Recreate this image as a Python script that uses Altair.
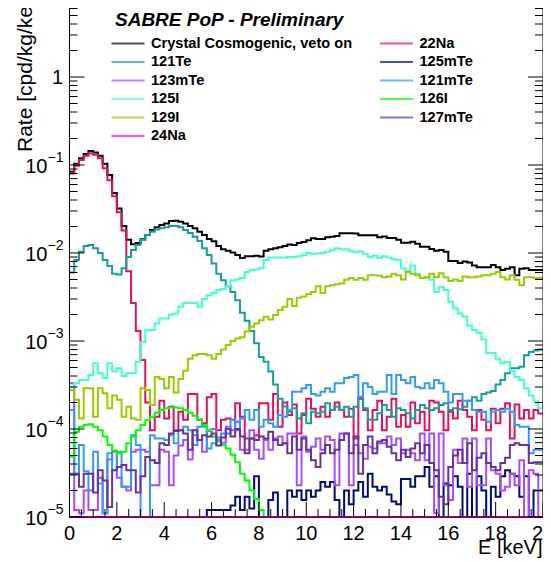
import altair as alt
import pandas as pd

# ---------------- data, 100 bins of 0.2 keV ----------------
E_EDGES = [round(0.2 * i, 1) for i in range(101)]

crystal = [0.084, 0.103, 0.119, 0.133, 0.144, 0.139, 0.127, 0.103, 0.077, 0.048,
           0.032, 0.0203, 0.0141, 0.0126, 0.0130, 0.0143, 0.0160, 0.0182, 0.0196, 0.0208,
           0.0217, 0.0231, 0.0233, 0.0227, 0.0217, 0.0203, 0.0191, 0.0174, 0.0160, 0.0144,
           0.0136, 0.0120, 0.0110, 0.0106, 0.0101, 0.0095, 0.0088, 0.0092, 0.0092, 0.0093,
           0.0091, 0.0106, 0.0110, 0.0113, 0.0116, 0.0120, 0.0125, 0.0123, 0.0130, 0.0133,
           0.0140, 0.0147, 0.0144, 0.0144, 0.0151, 0.0153, 0.0156, 0.0168, 0.0168, 0.0168,
           0.0166, 0.0159, 0.0159, 0.0159, 0.0159, 0.0151, 0.0154, 0.0148, 0.0148, 0.0141,
           0.0131, 0.0131, 0.0134, 0.0127, 0.0118, 0.0118, 0.0111, 0.0106, 0.0108, 0.0103,
           0.0081, 0.0081, 0.0077, 0.0080, 0.0078, 0.0072, 0.0069, 0.0069, 0.0069, 0.0073,
           0.0069, 0.0064, 0.0066, 0.0069, 0.0056, 0.0066, 0.0067, 0.0064, 0.0064, 0.0064]

na22 = [0.080, 0.098, 0.114, 0.127, 0.136, 0.131, 0.119, 0.092, 0.067, 0.044,
        0.029, 0.018, 0.0062, 0.0027, 0.0013, 6.1e-4, 2.0e-4, 9.7e-5, 1.38e-4, 2.1e-4,
        1.32e-4, 1.79e-4, 9.7e-5, 1.57e-4, 1.27e-4, 2.5e-4, 2.5e-4, 1.27e-4, 1.16e-4, 2.3e-4,
        2.5e-4, 9.7e-5, 1.27e-4, 1.32e-4, 1.27e-4, 1.96e-4, 1.38e-4, 7.8e-5, 7.8e-5, 8.5e-5,
        1.96e-4, 1.96e-4, 1.27e-4, 2.5e-4, 1.06e-4, 2.0e-4, 1.44e-4, 1.9e-4, 8.9e-5, 1.44e-4,
        2.2e-4, 1.7e-4, 1.38e-4, 1.79e-4, 1.38e-4, 1.64e-4, 2.0e-4, 1.64e-4, 1.38e-4, 1.7e-4,
        7.8e-5, 2.2e-4, 1.64e-4, 9.7e-5, 1.64e-4, 2.1e-4, 9.7e-5, 1.38e-4, 2.2e-4, 1.06e-4,
        1.44e-4, 1.06e-4, 2.0e-4, 1.16e-4, 1.57e-4, 9.7e-5, 2.1e-4, 2.0e-4, 1.57e-4, 9.7e-5,
        1.57e-4, 1.32e-4, 2.1e-4, 1.64e-4, 1.38e-4, 9.7e-5, 1.64e-4, 1.27e-4, 9.7e-5, 1.7e-4,
        1.16e-4, 1.7e-4, 1.96e-4, 7.8e-5, 1.9e-4, 1.32e-4, 1.64e-4, 1.32e-4, 1.64e-4, 1.5e-4]

te121 = [0.0060, 0.0083, 0.0103, 0.0120, 0.0123, 0.0113, 0.0100, 0.0083, 0.0071, 0.0058,
         0.0057, 0.0067, 0.0090, 0.0108, 0.0123, 0.0141, 0.0160, 0.0174, 0.0185, 0.0191,
         0.0196, 0.0203, 0.0203, 0.0196, 0.0182, 0.0169, 0.0153, 0.0137, 0.0113, 0.0095,
         0.0076, 0.0058, 0.0049, 0.0042, 0.0036, 0.0029, 0.0021, 0.0017, 0.0013, 9.4e-4,
         6.6e-4, 5.8e-4, 4.5e-4, 3.2e-4, 2.2e-4, 1.8e-4, 1.57e-4, 1.72e-4, 1.32e-4, 1.51e-4,
         1.16e-4, 1.57e-4, 1.51e-4, 1.57e-4, 1.96e-4, 1.64e-4, 1.79e-4, 1.64e-4, 1.79e-4, 1.38e-4,
         1.79e-4, 2.33e-4, 1.72e-4, 1.27e-4, 1.27e-4, 1.51e-4, 1.87e-4, 1.64e-4, 1.38e-4, 1.72e-4,
         1.64e-4, 1.51e-4, 1.32e-4, 1.64e-4, 1.87e-4, 1.72e-4, 1.64e-4, 1.72e-4, 1.87e-4, 1.96e-4,
         1.64e-4, 1.72e-4, 1.68e-4, 1.79e-4, 2.1e-4, 2.3e-4, 2.1e-4, 2.5e-4, 2.6e-4, 2.7e-4,
         3.2e-4, 3.6e-4, 4.3e-4, 4.9e-4, 4.9e-4, 5.1e-4, 6.9e-4, 7.5e-4, 7.8e-4, 8.0e-4]

te125m = [0] * 29 + [1.2e-5, 1.2e-5, 1.2e-5, 1.2e-5, 1.2e-5, 1.35e-5, 1.7e-5, 1.2e-5, 1.7e-5, 1.25e-5, 2.9e-5,
          0, 0, 1.56e-5, 1.9e-5, 0, 0, 2.0e-5, 1.7e-5, 2.0e-5, 1.56e-5,
          2.0e-5, 1.7e-5, 2.0e-5, 2.5e-5, 2.2e-5, 2.5e-5, 1.56e-5, 0, 2.0e-5, 1.4e-5,
          2.0e-5, 2.5e-5, 1.7e-5, 3.1e-5, 2.2e-5, 2.0e-5, 2.2e-5, 1.8e-5, 1.5e-5, 1.4e-5,
          2.7e-5, 2.7e-5, 2.2e-5, 2.9e-5, 2.9e-5, 3.7e-5, 2.2e-5, 2.9e-5, 0, 2.4e-5,
          2.3e-5, 2.9e-5, 2.2e-5, 0, 3.1e-5, 0, 2.9e-5, 2.0e-5, 0, 2.2e-5,
          1.7e-5, 2.9e-5, 3.4e-5, 3.1e-5, 2.9e-5, 1.7e-5, 2.9e-5, 0, 2.0e-5, 2.0e-5]

te123m = [3.3e-4, 1.2e-5, 1.1e-5, 2.0e-5, 1.2e-5, 1.2e-5, 2.8e-5, 1.1e-5, 4.5e-5, 5.5e-5,
          2.8e-5, 2.2e-5, 2.0e-5, 5.5e-5, 5.8e-5, 5.8e-5, 5.5e-5, 2.3e-5, 2.3e-5, 5.8e-5,
          5.5e-5, 2.3e-5, 5.0e-5, 6.5e-5, 7.5e-5, 4.5e-5, 8.5e-5, 7.5e-5, 5.5e-5, 9.5e-5,
          1.0e-4, 8.0e-5, 7.0e-5, 1.06e-4, 9.7e-5, 1.21e-4, 5.8e-5, 5.8e-5, 9.7e-5, 5.8e-5,
          4.6e-5, 7.5e-5, 5.8e-5, 7.8e-5, 8.2e-5, 6.9e-5, 8.9e-5, 8.9e-5, 2.3e-5, 8.2e-5,
          5.5e-5, 6.3e-5, 7.8e-5, 5.8e-5, 8.2e-5, 7.5e-5, 2.3e-5, 8.9e-5, 8.9e-5, 2.3e-5,
          6.6e-5, 5.3e-5, 4.6e-5, 6.3e-5, 6.0e-5, 6.9e-5, 6.9e-5, 8.2e-5, 6.6e-5, 7.8e-5,
          5.3e-5, 5.8e-5, 5.3e-5, 4.4e-5, 8.9e-5, 4.4e-5, 8.9e-5, 1.1e-5, 8.9e-5, 2.3e-5,
          1.56e-5, 5.8e-5, 4.1e-5, 7.8e-5, 2.2e-5, 7.8e-5, 2.3e-5, 2.3e-5, 7.8e-5, 3.4e-5,
          3.1e-5, 2.0e-5, 2.2e-5, 3.1e-5, 2.3e-5, 4.4e-5, 0, 3.4e-5, 3.1e-5, 0]

te121m = [1.64e-4, 3.1e-5, 6.6e-5, 3.3e-5, 2.0e-5, 5.5e-5, 2.4e-5, 1.1e-5, 5.3e-5, 3.4e-5,
          5.5e-5, 2.2e-5, 2.2e-5, 8.5e-5, 6.6e-5, 0, 0, 8.5e-5, 7.8e-5, 7.8e-5,
          7.5e-5, 8.5e-5, 6.9e-5, 9.7e-5, 1.06e-4, 9.7e-5, 6.6e-5, 1.06e-4, 1.06e-4, 6.0e-5,
          6.9e-5, 7.5e-5, 8.9e-5, 8.9e-5, 1.27e-4, 9.7e-5, 1.32e-4, 1.64e-4, 1.27e-4, 1.64e-4,
          1.06e-4, 1.27e-4, 1.16e-4, 1.06e-4, 1.44e-4, 1.38e-4, 1.64e-4, 2.65e-4, 2.65e-4, 2.9e-4,
          3.16e-4, 2.5e-4, 2.4e-4, 2.65e-4, 2.9e-4, 2.65e-4, 3.3e-4, 3.3e-4, 3.8e-4, 3.9e-4,
          4.1e-4, 2.3e-4, 3.3e-4, 3.0e-4, 2.5e-4, 2.65e-4, 2.65e-4, 4.1e-4, 2.5e-4, 4.1e-4,
          3.6e-4, 3.3e-4, 3.9e-4, 3.0e-4, 2.9e-4, 3.3e-4, 2.9e-4, 3.6e-4, 3.3e-4, 2.65e-4,
          2.0e-4, 2.5e-4, 2.5e-4, 2.1e-4, 2.1e-4, 1.64e-4, 1.57e-4, 1.57e-4, 1.21e-4, 1.57e-4,
          1.64e-4, 1.57e-4, 1.7e-4, 1.57e-4, 1.11e-4, 1.06e-4, 1.06e-4, 5.3e-5, 5.8e-5, 5.8e-5]

i125 = [3.0e-4, 3.3e-4, 3.6e-4, 3.6e-4, 4.1e-4, 5.6e-4, 4.3e-4, 3.8e-4, 5.6e-4, 4.5e-4,
        4.9e-4, 4.0e-4, 4.3e-4, 4.3e-4, 5.8e-4, 9.7e-4, 1.33e-3, 1.33e-3, 1.58e-3, 1.8e-3,
        1.8e-3, 2.0e-3, 2.05e-3, 2.45e-3, 2.7e-3, 2.7e-3, 2.7e-3, 2.45e-3, 3.0e-3, 3.3e-3,
        3.5e-3, 3.8e-3, 3.9e-3, 4.2e-3, 4.9e-3, 5.0e-3, 5.2e-3, 6.1e-3, 6.4e-3, 6.5e-3,
        6.7e-3, 8.3e-3, 8.9e-3, 8.9e-3, 8.9e-3, 8.9e-3, 9.0e-3, 9.0e-3, 9.2e-3, 9.5e-3,
        1.0e-2, 9.8e-3, 9.9e-3, 1.0e-2, 1.03e-2, 1.08e-2, 1.13e-2, 1.1e-2, 1.1e-2, 1.05e-2,
        1.02e-2, 1.05e-2, 9.8e-3, 9.0e-3, 9.3e-3, 8.8e-3, 9.2e-3, 8.9e-3, 8.5e-3, 8.3e-3,
        6.7e-3, 6.3e-3, 7.2e-3, 5.8e-3, 5.2e-3, 5.3e-3, 4.95e-3, 3.6e-3, 4.1e-3, 3.8e-3,
        2.8e-3, 2.35e-3, 2.05e-3, 1.9e-3, 1.5e-3, 1.33e-3, 1.23e-3, 1.04e-3, 7.3e-4, 7.3e-4,
        6.3e-4, 5.6e-4, 5.8e-4, 4.6e-4, 3.9e-4, 3.6e-4, 2.9e-4, 2.4e-4, 2.05e-4, 1.72e-4]

i126 = [4.85e-5, 9.3e-5, 1.06e-4, 1.11e-4, 1.13e-4, 1.06e-4, 9.7e-5, 8.2e-5, 6.6e-5, 5.7e-5,
        5.3e-5, 5.5e-5, 6.9e-5, 8.2e-5, 9.7e-5, 1.11e-4, 1.26e-4, 1.38e-4, 1.53e-4, 1.64e-4,
        1.72e-4, 1.76e-4, 1.76e-4, 1.72e-4, 1.64e-4, 1.53e-4, 1.41e-4, 1.29e-4, 1.11e-4, 9.7e-5,
        8.2e-5, 7.2e-5, 6.6e-5, 6.0e-5, 5.1e-5, 4.2e-5, 3.1e-5, 2.6e-5, 2.0e-5, 1.6e-5,
        1.2e-5] + [0] * 59

i129 = [2.77e-4, 2.15e-4, 1.32e-4, 2.9e-4, 2.9e-4, 1.38e-4, 2.9e-4, 2.55e-4, 1.72e-4, 2.4e-4,
        2.15e-4, 1.38e-4, 1.79e-4, 1.32e-4, 1.27e-4, 2.9e-4, 2.77e-4, 1.87e-4, 3.9e-4, 3.7e-4,
        2.9e-4, 3.9e-4, 2.6e-4, 3.7e-4, 4.6e-4, 6.3e-4, 6.9e-4, 7.1e-4, 7.1e-4, 6.9e-4,
        6.3e-4, 7.1e-4, 8.0e-4, 9.0e-4, 1.0e-3, 1.07e-3, 1.1e-3, 1.28e-3, 1.45e-3, 1.58e-3,
        1.72e-3, 1.89e-3, 1.75e-3, 1.98e-3, 2.25e-3, 2.45e-3, 3.0e-3, 2.5e-3, 3.1e-3, 3.2e-3,
        3.4e-3, 3.6e-3, 4.2e-3, 3.5e-3, 4.2e-3, 4.3e-3, 4.4e-3, 4.5e-3, 4.95e-3, 5.2e-3,
        4.95e-3, 5.2e-3, 4.95e-3, 5.6e-3, 5.6e-3, 5.5e-3, 5.3e-3, 5.4e-3, 5.8e-3, 5.6e-3,
        5.0e-3, 6.1e-3, 5.8e-3, 5.6e-3, 5.2e-3, 5.3e-3, 5.8e-3, 5.3e-3, 5.9e-3, 5.3e-3,
        4.8e-3, 5.0e-3, 4.8e-3, 5.4e-3, 5.3e-3, 5.3e-3, 5.4e-3, 5.6e-3, 5.6e-3, 5.8e-3,
        6.1e-3, 5.3e-3, 5.0e-3, 5.6e-3, 4.95e-3, 4.3e-3, 5.3e-3, 5.3e-3, 5.2e-3, 5.2e-3]

te127m = [3.1e-5, 3.1e-5, 2.2e-5, 3.1e-5, 3.1e-5, 1.9e-5, 3.4e-5, 2.6e-5, 1.3e-5, 3.4e-5,
          3.7e-5, 3.9e-5, 3.4e-5, 3.4e-5, 1.9e-5, 2.9e-5, 4.8e-5, 4.4e-5, 4.1e-5, 6.9e-5,
          6.6e-5, 8.9e-5, 9.5e-5, 9.7e-5, 8.9e-5, 5.8e-5, 9.7e-5, 7.5e-5, 8.5e-5, 8.2e-5,
          8.9e-5, 6.5e-5, 8.0e-5, 1.0e-4, 8.2e-5, 1.0e-4, 8.2e-5, 5.3e-5, 7.8e-5, 7.5e-5,
          8.2e-5, 7.8e-5, 9.3e-5, 7.5e-5, 6.6e-5, 6.9e-5, 5.3e-5, 8.2e-5, 5.8e-5, 7.8e-5,
          5.8e-5, 4.4e-5, 3.7e-5, 5.3e-5, 6.6e-5, 5.3e-5, 5.8e-5, 7.5e-5, 8.9e-5, 5.3e-5,
          8.2e-5, 3.1e-5, 6.6e-5, 8.2e-5, 5.3e-5, 7.2e-5, 7.5e-5, 6.3e-5, 5.3e-5, 4.4e-5,
          5.8e-5, 4.8e-5, 6.0e-5, 6.9e-5, 5.3e-5, 6.6e-5, 4.1e-5, 3.4e-5, 1.7e-5, 1.4e-5,
          3.7e-5, 5.0e-5, 5.8e-5, 4.1e-5, 6.9e-5, 3.4e-5, 4.7e-5, 5.3e-5, 4.1e-5, 3.7e-5,
          3.4e-5, 4.1e-5, 4.7e-5, 6.6e-5, 6.9e-5, 6.6e-5, 6.6e-5, 4.1e-5, 4.2e-5, 4.2e-5]

na24 = [0] * 100

# legend order (row-wise, two columns) == drawing order
NAMES = ["Crystal Cosmogenic, veto on", "22Na", "121Te", "125mTe", "123mTe", "121mTe",
         "125I", "126I", "129I", "127mTe", "24Na"]
COLORS = ["#000000", "#e0115f", "#1a9c9c", "#000a7f", "#a64dff", "#3399ff",
          "#40ffd0", "#00ff00", "#99cc00", "#663399", "#ff00ff"]
VALUES = [crystal, na22, te121, te125m, te123m, te121m, i125, i126, i129, te127m, na24]

MAJOR_DECADES = [1e-5, 1e-4, 1e-3, 1e-2, 1e-1, 1.0]
EXPONENT_TEXT = ["\u22125", "\u22124", "\u22123", "\u22122", "\u22121"]
MINOR_MULT = [2, 3, 4, 5, 6, 7, 8, 9]
X_LABELS = [0, 2, 4, 6, 8, 10, 12, 14, 16, 18, 20]
X_MINOR = [0.5 * k for k in range(41) if k % 4 != 0]

YMIN, YMAX = 1e-5, 6.08
W, H = 473.5, 509
FONT = "Liberation Sans"

xs = alt.Scale(domain=[0, 20], nice=False, zero=False)
ys = alt.Scale(type="log", domain=[YMIN, YMAX], nice=False)

# ---------------- frame lines ----------------
one_row = pd.DataFrame({"a": [0]})
frame = [
    alt.Chart(one_row).mark_rule(color="black", strokeWidth=1).encode(
        x=alt.value(0), y=alt.value(0), y2=alt.value(H)),
    alt.Chart(one_row).mark_rule(color="black", strokeWidth=1).encode(
        x=alt.value(W), y=alt.value(0), y2=alt.value(H)),
    alt.Chart(one_row).mark_rule(color="black", strokeWidth=1).encode(
        x=alt.value(0), x2=alt.value(W), y=alt.value(H)),
]

# ---------------- histogram lines ----------------
layers = []
for name, col, vals in zip(NAMES, COLORS, VALUES):
    vv = list(vals) + [vals[-1]]
    df = pd.DataFrame({"E": E_EDGES, "v": [max(v, YMIN) for v in vv]})
    layers.append(alt.Chart(df).mark_line(
        interpolate="step-after", strokeWidth=2, color=col, strokeJoin="miter"
    ).encode(x=alt.X("E:Q", scale=xs, axis=None), y=alt.Y("v:Q", scale=ys, axis=None)))

# ---------------- inward ticks ----------------
ymaj = pd.DataFrame({"v": MAJOR_DECADES})
ymin = pd.DataFrame({"v": [m * d for d in MAJOR_DECADES for m in MINOR_MULT if m * d <= YMAX]})
tick_layers = []
for df, ln in [(ymaj, 15), (ymin, 8)]:
    tick_layers.append(alt.Chart(df).mark_rule(color="black", strokeWidth=1).encode(
        y=alt.Y("v:Q", scale=ys, axis=None), x=alt.value(0), x2=alt.value(ln)))
    tick_layers.append(alt.Chart(df).mark_rule(color="black", strokeWidth=1).encode(
        y=alt.Y("v:Q", scale=ys, axis=None), x=alt.value(W), x2=alt.value(W - ln)))
xmaj = pd.DataFrame({"E": X_LABELS})
xmin = pd.DataFrame({"E": X_MINOR})
for df, ln in [(xmaj, 15), (xmin, 8)]:
    tick_layers.append(alt.Chart(df).mark_rule(color="black", strokeWidth=1).encode(
        x=alt.X("E:Q", scale=xs, axis=None), y=alt.value(H), y2=alt.value(H - ln)))

# ---------------- tick labels ----------------
xlab = alt.Chart(xmaj).mark_text(font=FONT, fontSize=20, align="center", baseline="alphabetic",
                                 color="black").encode(
    x=alt.X("E:Q", scale=xs, axis=None), y=alt.value(H + 23), text="E:Q")
ylab = pd.DataFrame({"v": MAJOR_DECADES[:-1], "ex": EXPONENT_TEXT})
base10 = alt.Chart(ylab).mark_text(font=FONT, fontSize=20, align="right", baseline="middle",
                                   dy=2, color="black", text="10").encode(
    y=alt.Y("v:Q", scale=ys, axis=None), x=alt.value(-22))
expo = alt.Chart(ylab).mark_text(font=FONT, fontSize=14, align="left", baseline="middle",
                                 dy=-7, color="black").encode(
    y=alt.Y("v:Q", scale=ys, axis=None), x=alt.value(-22), text="ex:N")
one = alt.Chart(pd.DataFrame({"v": [1.0]})).mark_text(font=FONT, fontSize=20, align="right",
                                                        baseline="middle", dy=1, color="black",
                                                        text="1").encode(
    y=alt.Y("v:Q", scale=ys, axis=None), x=alt.value(-6.5))

# ---------------- titles ----------------
title = alt.Chart(one_row).mark_text(text="SABRE PoP - Preliminary", font=FONT, fontSize=19,
                                     fontWeight="bold", fontStyle="italic", align="left",
                                     baseline="alphabetic", color="black").encode(
    x=alt.value(45.5), y=alt.value(17.5))
ytitle = alt.Chart(one_row).mark_text(text="Rate [cpd/kg/keV]", font=FONT, fontSize=21,
                                      angle=270, align="left", baseline="alphabetic",
                                      color="black").encode(
    x=alt.value(-37.5), y=alt.value(144))
xtitle = alt.Chart(one_row).mark_text(text="E [keV]", font=FONT, fontSize=20, align="right",
                                      baseline="alphabetic", color="black").encode(
    x=alt.value(473), y=alt.value(546))

inner = alt.layer(*layers, *frame, *tick_layers, xlab, base10, expo, one, title, ytitle, xtitle)

# ---------------- legend (two columns, row-wise) ----------------
leg = pd.DataFrame({
    "name": NAMES,
    "color": COLORS,
    "col": [i % 2 for i in range(len(NAMES))],
    "row": [i // 2 for i in range(len(NAMES))],
})
lx = alt.X("col:Q", scale=alt.Scale(domain=[0, 1], range=[58.5, 327]), axis=None)
ly = alt.Y("row:Q", scale=alt.Scale(domain=[0, 5], range=[35.5, 128]), axis=None)
leg_lines = alt.Chart(leg).mark_tick(orient="horizontal", size=33, thickness=2).encode(
    x=lx, y=ly, color=alt.Color("color:N", scale=None, legend=None))
leg_text = alt.Chart(leg).mark_text(font=FONT, fontSize=14.6, fontWeight="bold", align="left",
                                    baseline="middle", dx=23, color="black").encode(
    x=lx, y=ly, text="name:N")

chart = alt.layer(inner, leg_lines, leg_text).resolve_scale(
    x="independent", y="independent"
).properties(
    width=W, height=H,
    padding={"left": 61.5, "top": 0, "right": 0, "bottom": 45},
    autosize=alt.AutoSizeParams(type="none"),
    background="white",
).configure_view(stroke="transparent")

chart.save("out.html", embed_options={"renderer": "svg", "actions": False})
